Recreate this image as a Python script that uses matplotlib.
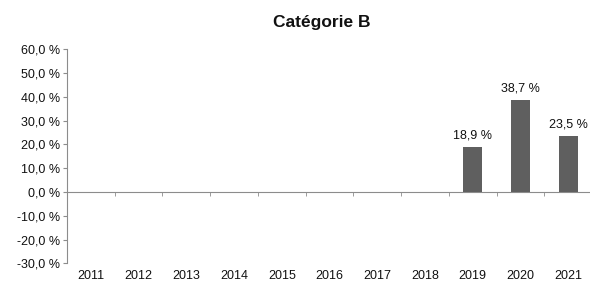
import numpy as np
import matplotlib
matplotlib.use("Agg")
import matplotlib.pyplot as plt

# data
years = ["2011", "2012", "2013", "2014", "2015", "2016",
         "2017", "2018", "2019", "2020", "2021"]
values = [np.nan, np.nan, np.nan, np.nan, np.nan, np.nan,
          np.nan, np.nan, 18.9, 38.7, 23.5]
y_ticks = [-30, -20, -10, 0, 10, 20, 30, 40, 50, 60]

plt.rcParams['font.family'] = ['Liberation Sans', 'DejaVu Sans']

fig = plt.figure(figsize=(5.90, 2.83), dpi=100)
ax = fig.add_axes([67 / 590, 0.0696, (592 - 67) / 590, 0.826 - 0.0696])

x = np.arange(len(years))
bars = ax.bar(x, values, width=0.4, color='#5f5f5f', zorder=3)

for xi, v in zip(x, values):
    if not np.isnan(v):
        ax.annotate(f"{v:.1f} %".replace('.', ','), (xi, v),
                    xytext=(0, 4), textcoords='offset points',
                    ha='center', va='bottom', fontsize=9, color='#111111')

ax.set_xlim(-0.5, len(years) - 0.5)
ax.set_ylim(-30, 60)
ax.set_yticks(y_ticks)
ax.set_yticklabels([f"{t:.1f} %".replace('.', ',') for t in y_ticks])

axis_col = '#8c8c8c'
for s in ['top', 'right']:
    ax.spines[s].set_visible(False)
ax.spines['left'].set_color(axis_col)
ax.spines['bottom'].set_color(axis_col)
ax.spines['bottom'].set_position(('data', 0))

# boundary ticks on the zero line
ax.set_xticks(x)
ax.set_xticklabels([])
ax.tick_params(axis='x', which='major', length=0)
ax.set_xticks(np.arange(len(years) + 1) - 0.5, minor=True)
ax.tick_params(axis='x', which='minor', length=3, color=axis_col, direction='out')
ax.tick_params(axis='y', length=3, color=axis_col, labelsize=9,
               labelcolor='#111111', pad=2)

# year labels sit under the plot area
sec = ax.secondary_xaxis('bottom')
sec.set_xticks(x)
sec.set_xticklabels(years)
sec.tick_params(length=0, labelsize=9, labelcolor='#111111', pad=5)
sec.spines['bottom'].set_visible(False)

fig.text(322 / 590, 1 - 23 / 283, "Catégorie B", ha='center', va='center',
         fontsize=12.5, fontweight='bold', color='#111111')

fig.savefig("out.png", dpi=100)
